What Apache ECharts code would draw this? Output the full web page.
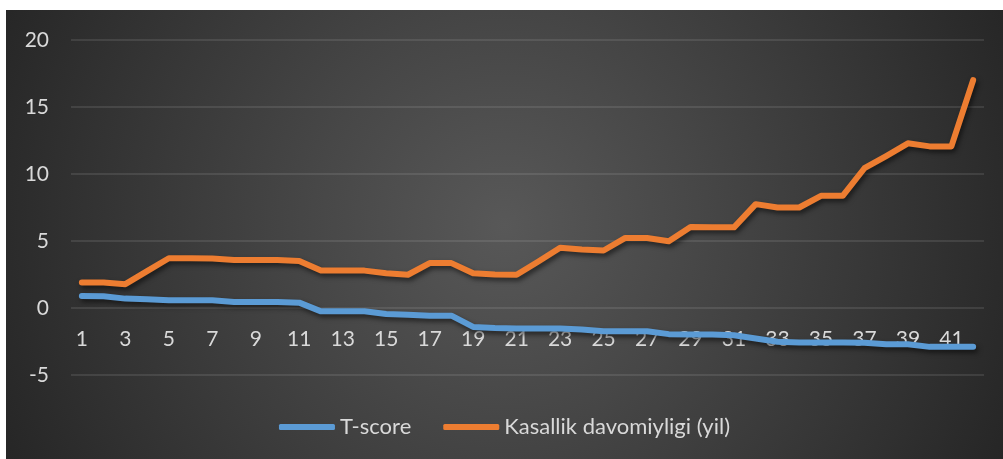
<!DOCTYPE html>
<html>
<head>
<meta charset="utf-8">
<script src="https://cdn.jsdelivr.net/npm/echarts@6/dist/echarts.min.js"></script>
<style>
  html, body { margin: 0; padding: 0; background: #ffffff; }
  #chart {
    position: absolute; left: 6px; top: 10px; width: 997px; height: 449px;
    background: radial-gradient(circle at 50% 48%, #585858 0%, #474747 35%, #262626 100%);
  }
</style>
</head>
<body>
<div id="chart"></div>
<script>
// 类目 1..42
const categories = ['1','2','3','4','5','6','7','8','9','10','11','12','13','14','15','16','17','18','19','20','21',
  '22','23','24','25','26','27','28','29','30','31','32','33','34','35','36','37','38','39','40','41','42'];

// T-score
const tScore = [0.9, 0.87, 0.7, 0.66, 0.57, 0.57, 0.57, 0.44, 0.44, 0.44, 0.4, -0.25, -0.25, -0.25, -0.45, -0.5,
  -0.57, -0.57, -1.41, -1.49, -1.53, -1.53, -1.53, -1.6, -1.73, -1.73, -1.73, -1.95, -1.98, -1.98, -2.03,
  -2.27, -2.52, -2.57, -2.57, -2.57, -2.6, -2.7, -2.7, -2.9, -2.9, -2.9];

// Kasallik davomiyligi (yil)
const duration = [1.9, 1.9, 1.78, 2.75, 3.71, 3.71, 3.7, 3.59, 3.59, 3.59, 3.51, 2.79, 2.79, 2.79, 2.6, 2.48,
  3.35, 3.35, 2.6, 2.5, 2.48, 3.47, 4.49, 4.36, 4.29, 5.23, 5.23, 4.98, 6.05, 6.02, 6.02,
  7.75, 7.5, 7.5, 8.37, 8.37, 10.43, 11.34, 12.29, 12.06, 12.06, 17.0];

const yTicks = { min: -5, max: 20, interval: 5 };

const textColor = '#d9d9d9';
const gridColor = 'rgba(217,217,217,0.16)';
const fontFamily = 'Lato, "Open Sans", sans-serif';

// 绘图区高度 335px 对应 25 个单位，x 轴放在 0 处
const plotHeight = 335;
const zeroOffset = -plotHeight * (0 - yTicks.min) / (yTicks.max - yTicks.min);

const myChart = echarts.init(document.getElementById('chart'));

const shadow = {
  shadowColor: 'rgba(0,0,0,0.55)',
  shadowBlur: 5,
  shadowOffsetX: 2,
  shadowOffsetY: 3
};

const option = {
  animation: false,
  textStyle: { fontFamily: fontFamily },
  grid: { left: 65, right: 19, top: 30, bottom: 84, containLabel: false },
  legend: {
    bottom: 16,
    left: 'center',
    icon: 'roundRect',
    itemWidth: 56,
    itemHeight: 6,
    itemGap: 32,
    textStyle: { color: textColor, fontSize: 22, fontFamily: fontFamily },
    data: ['T-score', 'Kasallik davomiyligi (yil)']
  },
  xAxis: {
    type: 'category',
    data: categories,
    boundaryGap: true,
    offset: zeroOffset,
    axisLine: { show: false },
    axisTick: { show: false },
    axisLabel: { interval: 1, color: textColor, fontSize: 21, margin: 21 },
    splitLine: { show: false }
  },
  yAxis: {
    type: 'value',
    min: yTicks.min,
    max: yTicks.max,
    interval: yTicks.interval,
    axisLine: { show: false },
    axisTick: { show: false },
    axisLabel: { color: textColor, fontSize: 21, margin: 22 },
    splitLine: { lineStyle: { color: gridColor, width: 1.5 } }
  },
  series: [
    {
      name: 'T-score',
      type: 'line',
      data: tScore,
      symbol: 'none',
      z: 5,
      itemStyle: { color: '#5b9bd5' },
      lineStyle: Object.assign({ color: '#5b9bd5', width: 6, cap: 'round', join: 'round' }, shadow)
    },
    {
      name: 'Kasallik davomiyligi (yil)',
      type: 'line',
      data: duration,
      symbol: 'none',
      z: 5,
      itemStyle: { color: '#ed7d31' },
      lineStyle: Object.assign({ color: '#ed7d31', width: 6, cap: 'round', join: 'round' }, shadow)
    }
  ]
};

myChart.setOption(option);
window.addEventListener('resize', () => myChart.resize());
</script>
</body>
</html>
